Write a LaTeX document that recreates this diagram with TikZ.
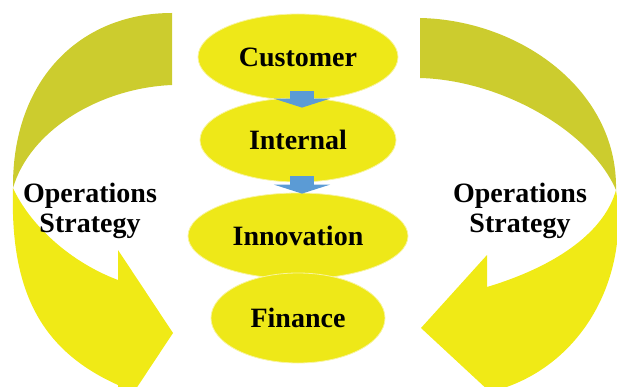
\documentclass[tikz,border=0pt]{standalone}
\usepackage{fontspec}
\setmainfont{Liberation Serif}
\usetikzlibrary{shapes.geometric,arrows.meta}
\definecolor{bandyellow}{RGB}{240,234,22}
\definecolor{bandolive}{RGB}{204,204,46}
\definecolor{stageyellow}{RGB}{238,232,24}
\definecolor{stagerim}{RGB}{248,244,160}
\definecolor{flowblue}{RGB}{91,155,213}

\begin{document}
\begin{tikzpicture}
  [x=1pt,y=-1pt,every node/.style={font=\bfseries\fontsize{28}{30}\selectfont}]
  \tikzstyle{stage} = [ellipse,fill=stageyellow,draw=stagerim,line width=.8pt,inner sep=0pt]
  \tikzstyle{flow} = [draw=flowblue,line width=24pt,-{Triangle[width=56pt,length=9pt]}]
  \clip (0,0) rectangle (617,387);

  % left curved arrow, back side then front side
  \fill[bandolive] (172,13) .. controls (80,13) and (12,80) .. (13,188)
    .. controls (30,130) and (100,88) .. (172,85) -- cycle;
  \fill[bandyellow] (13,188) .. controls (10,290) and (40,350) .. (118,385)
    -- (118,416) -- (173,333) -- (118,250) -- (118,280)
    .. controls (70,262) and (30,225) .. (13,188) -- cycle;

  % right curved arrow
  \fill[bandolive] (420,18) .. controls (520,20) and (618,90) .. (616,190)
    .. controls (590,130) and (500,80) .. (420,78) -- cycle;
  \fill[bandyellow] (616,190) .. controls (630,280) and (580,370) .. (490,392)
    -- (421,328) -- (487,255) -- (487,287)
    .. controls (560,265) and (605,230) .. (616,190) -- cycle;

  \node[stage,minimum width=200pt,minimum height=86pt] (cust) at (298,57)  {Customer};
  \node[stage,minimum width=196pt,minimum height=84pt] (int)  at (298,140) {Internal};
  \node[stage,minimum width=220pt,minimum height=86pt] (inno) at (298,236) {Innovation};
  \node[stage,minimum width=174pt,minimum height=90pt] (fin)  at (298,318) {Finance};

\foreach \source/\dest/\up/\down in {cust/int/9pt/-10pt,int/inno/6pt/-1pt}
   \draw[flow] ([shift={(4pt,\up)}]\source.south) -- ([shift={(4pt,\down)}]\dest.north);

  \node[align=center] (opleft)  at (90,211)  {Operations\\Strategy};
  \node[align=center] (opright) at (520,211) {Operations\\Strategy};

  \end{tikzpicture}
\end{document}
